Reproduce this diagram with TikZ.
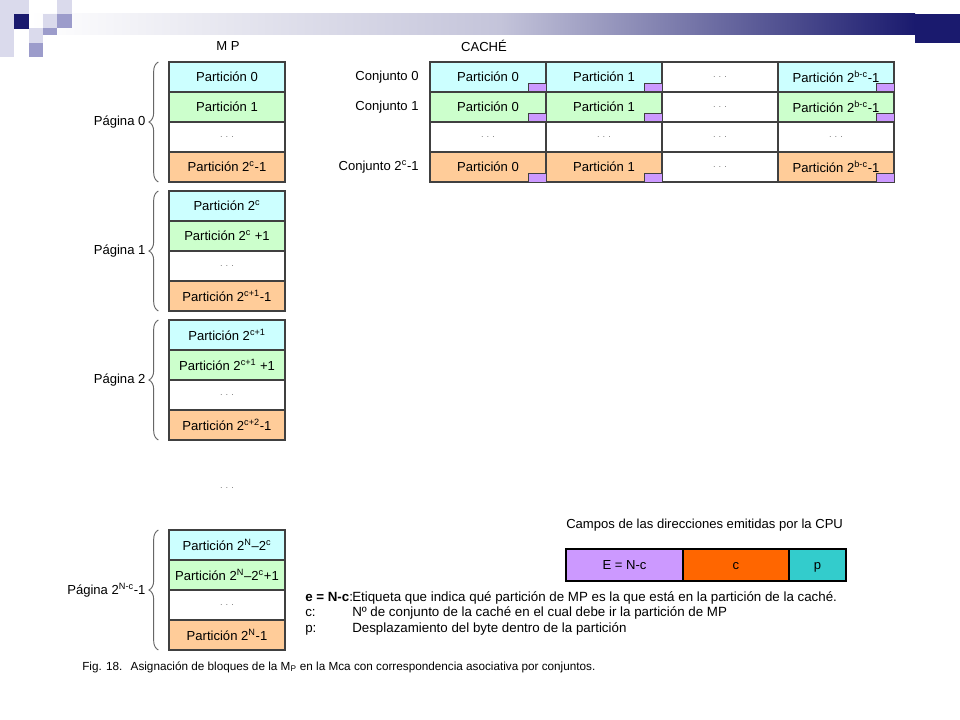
\documentclass[tikz,border=0pt]{standalone}
\usepackage{fontspec}
\setmainfont{Liberation Sans}
\usetikzlibrary{positioning,decorations.pathreplacing}

\definecolor{cyanpart}{HTML}{CCFFFF}
\definecolor{greenpart}{HTML}{CCFFCC}
\definecolor{orangepart}{HTML}{FFCC99}
\definecolor{tagpurple}{HTML}{CC99FF}
\definecolor{setorange}{HTML}{FF6600}
\definecolor{offteal}{HTML}{33CCCC}
\definecolor{framegray}{HTML}{404040}
\definecolor{bandnavy}{HTML}{1A1A6E}
\definecolor{bandlav}{HTML}{C4C4DA}
\definecolor{sqlight}{HTML}{DADAEC}
\definecolor{sqmid}{HTML}{9C9CCB}

\newcommand{\twoto}[1]{2\textsuperscript{#1}}
\newcommand{\dotsgray}{\textcolor{gray}{\fontsize{7}{8}\selectfont .\,\,.\,\,.}}

\begin{document}
\begin{tikzpicture}[
    x=0.75pt, y=-0.75pt,
    node distance=0pt,
    every node/.style={font=\fontsize{9.8}{11}\selectfont},
    part/.style={rectangle, draw=framegray, line width=0.9pt, outer sep=0pt, inner sep=0pt,
                 minimum width=87pt, minimum height=22.5pt},
    tag/.style={rectangle, draw=framegray, fill=tagpurple, line width=0.6pt, outer sep=0pt,
                inner sep=0pt, minimum width=13.5pt, minimum height=6.5pt},
    field/.style={rectangle, draw=black, line width=0.9pt, outer sep=0pt, inner sep=0pt,
                  minimum height=24pt, text height=1.6ex, text depth=0.3ex,
                  font=\fontsize{9.8}{11}\selectfont},
    brace/.style={decorate, decoration={brace, amplitude=7pt}, draw=gray!80!black, line width=0.7pt},
    txt/.style={inner sep=0pt}
]
\fill[white] (0,0) rectangle (960,720);
\useasboundingbox (0,0) rectangle (960,720);

% title band
\shade[left color=white, right color=bandlav] (30,14) rectangle (500,35);
\shade[left color=bandlav, right color=bandnavy] (500,14) rectangle (915,35);
\fill[bandnavy] (915,14) rectangle (960,43);
\fill[sqlight] (0,0) rectangle (29,14);
\fill[sqlight] (0,14) rectangle (14,57);
\fill[sqlight] (57,0) rectangle (72,14);
\fill[sqlight] (43,14) rectangle (57,28);
\fill[sqlight] (29,28) rectangle (43,43);
\fill[sqmid] (57,14) rectangle (72,28);
\fill[sqmid] (43,28) rectangle (57,35);
\fill[sqmid] (29,43) rectangle (43,57);
\fill[bandnavy] (14,14) rectangle (29,29);

% main memory
\node (mptitle) at (228,46) {M P};
\foreach \i/\ytop/\pa/\pb/\pd/\pname in {
    0/62/0/1/\twoto{c}-1/0,
    1/191/\twoto{c}/\twoto{c} +1/\twoto{c+1}-1/1,
    2/320/\twoto{c+1}/\twoto{c+1} +1/\twoto{c+2}-1/2,
    3/530/\twoto{N}–\twoto{c}/\twoto{N}–\twoto{c}+1/\twoto{N}-1/\twoto{N-c}-1}
{
    \node[part, fill=cyanpart, anchor=north] (mp\i a) at (227,\ytop) {Partición \pa};
    \node[part, fill=greenpart, below=of mp\i a] (mp\i b) {Partición \pb};
    \node[part, below=of mp\i b] (mp\i c) {\dotsgray};
    \node[part, fill=orangepart, below=of mp\i c] (mp\i d) {Partición \pd};
    \draw[brace] ([xshift=-8pt]mp\i d.south west) -- ([xshift=-8pt]mp\i a.north west)
        node[midway, left=6pt] (pg\i) {Página \pname};
}
\node (mpgap) at (227,488) {\dotsgray};

% cache
\node (cachetitle) at (484,46) {CACHÉ};
\foreach \r/\ytop/\fillc/\setlab in {0/62/cyanpart/0, 1/92/greenpart/1, 3/152/orangepart/\twoto{c}-1}
{
    \node[part, fill=\fillc, anchor=north west] (c\r0) at (430,\ytop) {Partición 0\hspace{6pt}};
    \node[part, fill=\fillc, right=of c\r0] (c\r1) {Partición 1\hspace{6pt}};
    \node[part, right=of c\r1] (c\r2) {\dotsgray};
    \node[part, fill=\fillc, right=of c\r2] (c\r3) {Partición \twoto{b-c}-1};
    \foreach \k in {0,1,3}
        \node[tag, anchor=south east] (t\r\k) at (c\r\k.south east) {};
    \node[left=5pt of c\r0] (set\r) {Conjunto \setlab};
}
\node[part, anchor=north west] (c20) at (430,122) {\dotsgray};
\foreach \k [count=\j from 0] in {1,2,3}
    \node[part, right=of c2\j] (c2\k) {\dotsgray};

% address fields
\node[txt, anchor=base west] (campos) at (566,528)
    {Campos de las direcciones emitidas por la CPU};
\node[field, fill=tagpurple, minimum width=87.75pt, anchor=north west] (fe) at (566,549) {E = N-c};
\node[field, fill=setorange, minimum width=79.5pt, right=of fe] (fc) {c};
\node[field, fill=offteal, minimum width=42.75pt, right=of fc] (fp) {p};

% legend
\begin{scope}[every node/.style={txt, anchor=base west, font=\fontsize{10}{12}\selectfont}]
    \node (ke) at (305,601) {\textbf{e = N-c}:};
    \node (de) at (352,601) {Etiqueta que indica qué partición de MP es la que está en la partición de la caché.};
    \node (kc) at (305,616) {c:};
    \node (dc) at (352,616) {Nº de conjunto de la caché en el cual debe ir la partición de MP};
    \node (kp) at (305,632) {p:};
    \node (dp) at (352,632) {Desplazamiento del byte dentro de la partición};
\end{scope}

\node[txt, anchor=base west, font=\fontsize{8.8}{10}\selectfont] (caption) at (82,670)
    {Fig. 18.\hspace{0.7em}Asignación de bloques de la M\textsubscript{P} en la Mca con correspondencia asociativa por conjuntos.};
\end{tikzpicture}
\end{document}
